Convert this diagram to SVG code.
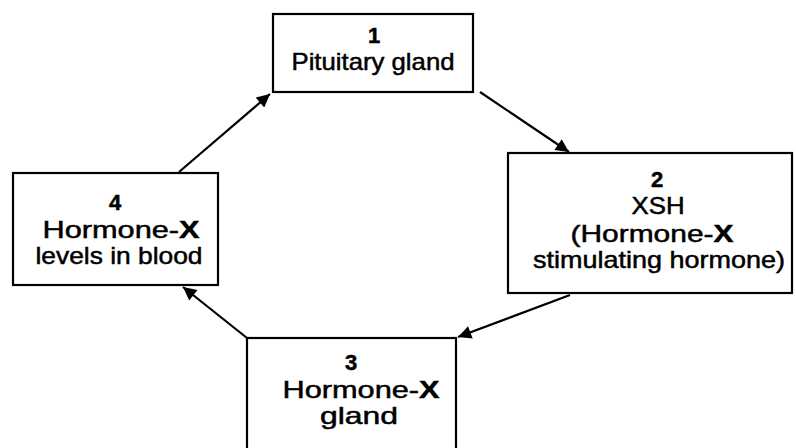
<svg xmlns="http://www.w3.org/2000/svg" width="796" height="448" viewBox="0 0 796 448">
<style>
.box{fill:#fff;stroke:#000;stroke-width:2.2}
.t{font-family:"Liberation Sans",Arial,sans-serif;font-size:24px;fill:#000;stroke:#000;stroke-width:0.5;text-anchor:middle}
.n{font-weight:bold;font-size:22px}
.b{font-weight:bold}
.c{stroke:#000;stroke-width:2.2;fill:none}
</style>
<defs>
<marker id="ah" viewBox="0 0 10 10" refX="10" refY="5" markerWidth="7" markerHeight="6" markerUnits="strokeWidth" orient="auto">
<path d="M0,0 L10,5 L0,10 z" fill="#000"/>
</marker>
</defs>
<rect width="796" height="448" fill="#fff"/>
<g id="connectors">
<line class="c" x1="179" y1="172" x2="270" y2="94" marker-end="url(#ah)"/>
<line class="c" x1="480" y1="92" x2="569" y2="152" marker-end="url(#ah)"/>
<line class="c" x1="570" y1="295" x2="458" y2="337" marker-end="url(#ah)"/>
<line class="c" x1="247" y1="338" x2="183" y2="287" marker-end="url(#ah)"/>
</g>
<g id="node1">
<rect class="box" x="273" y="14" width="200" height="78"/>
<text class="t n" x="374" y="43">1</text>
<text class="t" x="373" y="70" textLength="163" lengthAdjust="spacingAndGlyphs">Pituitary gland</text>
</g>
<g id="node2">
<rect class="box" x="508" y="153" width="284" height="140"/>
<text class="t n" x="657" y="187">2</text>
<text class="t" x="658" y="214" textLength="53" lengthAdjust="spacingAndGlyphs">XSH</text>
<text class="t" x="652" y="242" textLength="163" lengthAdjust="spacingAndGlyphs">(Hormone-<tspan class="b">X</tspan></text>
<text class="t" x="659" y="268" textLength="252" lengthAdjust="spacingAndGlyphs">stimulating hormone)</text>
</g>
<g id="node4">
<rect class="box" x="13" y="173" width="205" height="112"/>
<text class="t n" x="115" y="210">4</text>
<text class="t" x="121" y="238" textLength="157" lengthAdjust="spacingAndGlyphs">Hormone-<tspan class="b">X</tspan></text>
<text class="t" x="119" y="264" textLength="167" lengthAdjust="spacingAndGlyphs">levels in blood</text>
</g>
<g id="node3">
<rect class="box" x="247" y="338" width="209" height="130"/>
<text class="t n" x="351" y="370">3</text>
<text class="t" x="361" y="398" textLength="157" lengthAdjust="spacingAndGlyphs">Hormone-<tspan class="b">X</tspan></text>
<text class="t" x="359" y="424" textLength="78" lengthAdjust="spacingAndGlyphs">gland</text>
</g>
</svg>
